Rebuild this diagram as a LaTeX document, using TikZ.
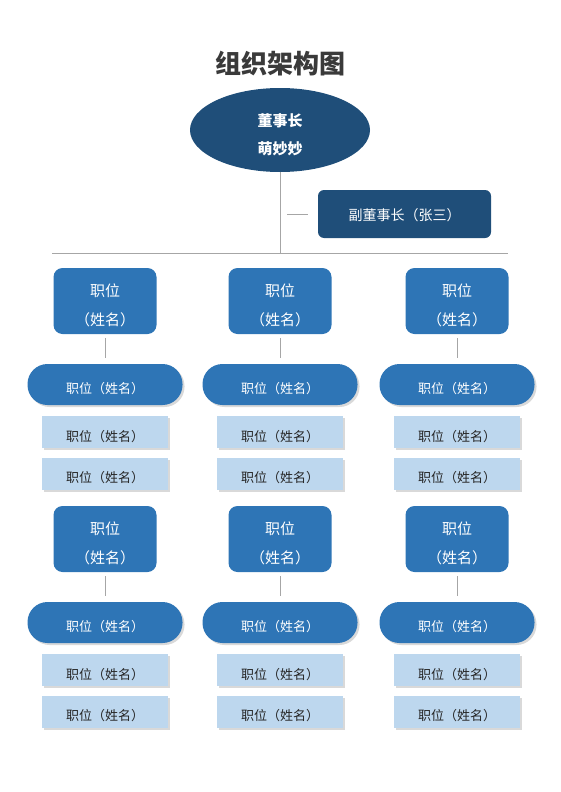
\documentclass[tikz,border=0pt]{standalone}
\usepackage{fontspec}
\setmainfont{Noto Sans CJK SC}
\usetikzlibrary{shapes.geometric,shadows}
\definecolor{darkblue}{HTML}{1F4E79}
\definecolor{midblue}{HTML}{2E75B6}
\definecolor{lightblue}{HTML}{BDD7EE}
\definecolor{linegray}{HTML}{A6A6A6}
\definecolor{titlegray}{HTML}{3A3A3A}
\definecolor{subtext}{HTML}{262626}
% lower a line of text inside its node
\newcommand{\sink}[2][4.5pt]{\raisebox{-#1}[\height][\depth]{#2}}

\begin{document}
\begin{tikzpicture}[x=1pt,y=-1pt]
\tikzstyle{every node}+=[inner sep=0pt]
\tikzstyle{chief}=[ellipse, fill=darkblue, minimum width=180pt, minimum height=84pt, text=white, align=center, font=\bfseries\fontsize{15}{28}\selectfont]
\tikzstyle{vicebox}=[rectangle, rounded corners=6pt, fill=darkblue, minimum width=173pt, minimum height=48pt, text=white, font=\fontsize{14}{16}\selectfont]
\tikzstyle{post}=[rectangle, rounded corners=9pt, fill=midblue, minimum width=103pt, minimum height=66pt, text=white, align=center, font=\fontsize{15}{29}\selectfont]
\tikzstyle{pill}=[rectangle, rounded corners=20pt, fill=midblue, minimum width=155pt, minimum height=41pt, text=white, font=\fontsize{13}{15}\selectfont, drop shadow={shadow xshift=2pt, shadow yshift=-2pt, opacity=0.3}]
\tikzstyle{staff}=[rectangle, fill=lightblue, minimum width=126pt, minimum height=32pt, text=subtext, font=\fontsize{13}{15}\selectfont, drop shadow={shadow xshift=2pt, shadow yshift=-2pt, opacity=0.3}]
\tikzstyle{link}=[draw=linegray, line width=0.8pt]
\tikzstyle{drop}=[link, shorten <=4pt, shorten >=6pt]
\useasboundingbox (0,0) rectangle (560,792);
% title and top of the tree
\node[text=titlegray, font=\bfseries\fontsize{26}{30}\selectfont] (title) at (280,64) {组织架构图};
\node[chief] (chair) at (280,130) {\sink{董事长}\\\sink{萌妙妙}};
\node[vicebox] (vice) at (404.5,214) {\sink[1.5pt]{副董事长（张三）}};
\coordinate (split) at (280,253);
\coordinate (lineL) at (52,253);
\coordinate (lineR) at (508,253);
\coordinate (tick) at (287,214);
\draw[link] (chair) -- (split);
\draw[link] (lineL) -- (lineR);
\draw[link] (tick) -- ([xshift=-10pt]vice.west);
% first row
\node[post] (postA) at (105,301) {\sink{职位}\\\sink{（姓名）}};
\node[pill] (pillA) at (105,384.5) {\sink{职位（姓名）}};
\node[staff] (staffA1) at (105,432) {\sink{职位（姓名）}};
\node[staff] (staffA2) at (105,473.5) {\sink{职位（姓名）}};
\draw[drop] (postA) -- (pillA);
\node[post] (postB) at (280,301) {\sink{职位}\\\sink{（姓名）}};
\node[pill] (pillB) at (280,384.5) {\sink{职位（姓名）}};
\node[staff] (staffB1) at (280,432) {\sink{职位（姓名）}};
\node[staff] (staffB2) at (280,473.5) {\sink{职位（姓名）}};
\draw[drop] (postB) -- (pillB);
\node[post] (postC) at (457,301) {\sink{职位}\\\sink{（姓名）}};
\node[pill] (pillC) at (457,384.5) {\sink{职位（姓名）}};
\node[staff] (staffC1) at (457,432) {\sink{职位（姓名）}};
\node[staff] (staffC2) at (457,473.5) {\sink{职位（姓名）}};
\draw[drop] (postC) -- (pillC);
% second row
\node[post] (postD) at (105,539) {\sink{职位}\\\sink{（姓名）}};
\node[pill] (pillD) at (105,622.5) {\sink{职位（姓名）}};
\node[staff] (staffD1) at (105,670) {\sink{职位（姓名）}};
\node[staff] (staffD2) at (105,711.5) {\sink{职位（姓名）}};
\draw[drop] (postD) -- (pillD);
\node[post] (postE) at (280,539) {\sink{职位}\\\sink{（姓名）}};
\node[pill] (pillE) at (280,622.5) {\sink{职位（姓名）}};
\node[staff] (staffE1) at (280,670) {\sink{职位（姓名）}};
\node[staff] (staffE2) at (280,711.5) {\sink{职位（姓名）}};
\draw[drop] (postE) -- (pillE);
\node[post] (postF) at (457,539) {\sink{职位}\\\sink{（姓名）}};
\node[pill] (pillF) at (457,622.5) {\sink{职位（姓名）}};
\node[staff] (staffF1) at (457,670) {\sink{职位（姓名）}};
\node[staff] (staffF2) at (457,711.5) {\sink{职位（姓名）}};
\draw[drop] (postF) -- (pillF);
\end{tikzpicture}
\end{document}
